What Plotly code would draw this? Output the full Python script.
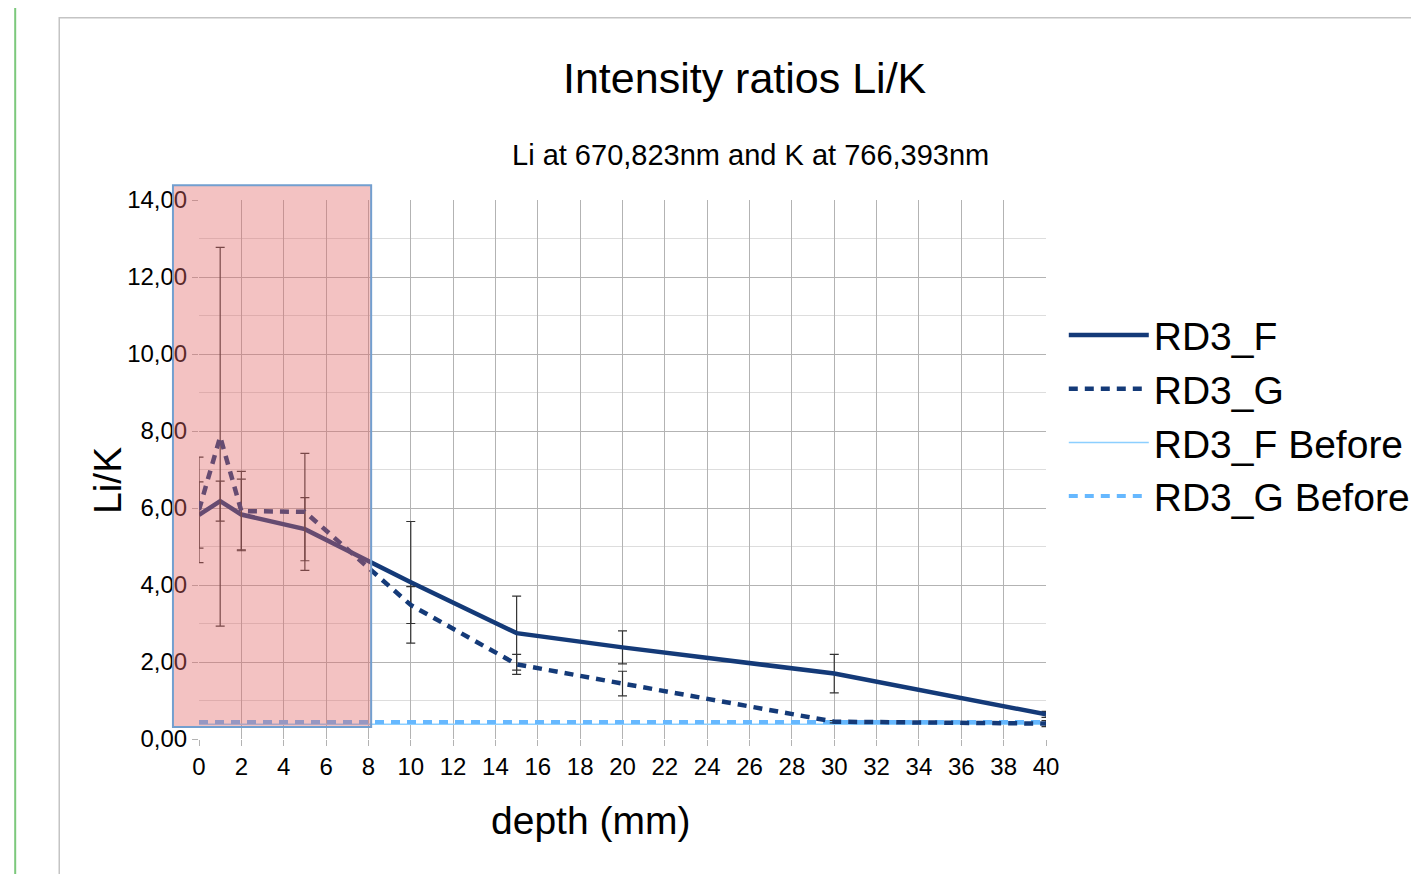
import plotly.graph_objects as go

# ---- data ----
depth = [0, 1, 2, 5, 10, 15, 20, 30, 40]
rd3_f = [5.82, 6.18, 5.83, 5.45, 4.07, 2.75, 2.38, 1.70, 0.64]
rd3_f_err = [0.86, 0.52, 0.92, 0.82, 1.58, 0.96, 0.43, 0.50, 0.08]
rd3_g = [5.95, 7.85, 5.92, 5.90, 3.48, 1.94, 1.44, 0.45, 0.40]
rd3_g_err = [1.37, 4.92, 1.03, 1.52, 0.48, 0.26, 0.32, 0.03, 0.08]
rd3_f_before = [0.38, 0.38, 0.38, 0.38, 0.38, 0.38, 0.38, 0.38, 0.38]
rd3_g_before = [0.44, 0.44, 0.44, 0.44, 0.44, 0.44, 0.44, 0.44, 0.44]

x_range = [0, 40]
y_range = [0, 14]
highlight_x = [-1.23, 8.13]
highlight_y = [0.31, 14.38]

FONT = "Liberation Sans, Arial, sans-serif"
NAVY = "#143a78"
LIGHT = "#66b8ff"
LIGHT_THIN = "#8ccfff"

fig = go.Figure()

fig.add_trace(go.Scatter(
    x=depth, y=rd3_f_before, name="RD3_F Before", mode="lines",
    line=dict(color=LIGHT_THIN, width=1.5), legendrank=3, legendgroup="c"))
fig.add_trace(go.Scatter(
    x=depth, y=rd3_g_before, name="RD3_G Before", mode="lines",
    line=dict(color=LIGHT, width=4, dash="9px,7px"), legendrank=4, legendgroup="d"))
fig.add_trace(go.Scatter(
    x=depth, y=rd3_f, name="RD3_F", mode="lines",
    line=dict(color=NAVY, width=4.5),
    error_y=dict(type="data", array=rd3_f_err, color="#333333", thickness=1.2, width=4.5),
    legendrank=1, legendgroup="a"))
fig.add_trace(go.Scatter(
    x=depth, y=rd3_g, name="RD3_G", mode="lines",
    line=dict(color=NAVY, width=4.5, dash="9px,7px"),
    error_y=dict(type="data", array=rd3_g_err, color="#333333", thickness=1.2, width=4.5),
    legendrank=2, legendgroup="b"))

def px_(v):
    return (v - x_range[0]) / (x_range[1] - x_range[0])

def py_(v):
    return (v - y_range[0]) / (y_range[1] - y_range[0])

shapes = [
    # page border line (green) and chart frame
    dict(type="line", xref="paper", yref="paper", x0=-0.217, x1=-0.217, y0=-0.5, y1=1.5,
         line=dict(color="#7cc87c", width=2), layer="below"),
    dict(type="rect", xref="paper", yref="paper", x0=-0.165, x1=1.6, y0=-0.5, y1=1.338,
         line=dict(color="#c4c4c4", width=1.5), fillcolor="rgba(0,0,0,0)", layer="below"),
    # highlighted region
    dict(type="rect", xref="paper", yref="paper",
         x0=px_(highlight_x[0]), x1=px_(highlight_x[1]),
         y0=py_(highlight_y[0]), y1=py_(highlight_y[1]),
         fillcolor="rgba(224,102,102,0.40)", line=dict(color="#729fcf", width=2), layer="above"),
]

annotations = [
    dict(text="Intensity ratios Li/K", xref="paper", yref="paper", x=0.645, y=1.226,
         showarrow=False, xanchor="center", yanchor="middle", font=dict(size=43, color="black", family=FONT)),
    dict(text="Li at 670,823nm and K at 766,393nm", xref="paper", yref="paper", x=0.651, y=1.0835,
         showarrow=False, xanchor="center", yanchor="middle", font=dict(size=29, color="black", family=FONT)),
    dict(text="Li/K", xref="paper", yref="paper", x=-0.1086, y=0.4786, textangle=-90,
         showarrow=False, xanchor="center", yanchor="middle", font=dict(size=39, color="black", family=FONT)),
    dict(text="depth (mm)", xref="paper", yref="paper", x=0.4626, y=-0.1505,
         showarrow=False, xanchor="center", yanchor="middle", font=dict(size=39, color="black", family=FONT)),
]

fig.update_layout(
    width=1419, height=874,
    margin=dict(l=191, r=379, t=192, b=143),
    paper_bgcolor="white", plot_bgcolor="white",
    separators=",.",
    font=dict(family=FONT, color="black"),
    shapes=shapes, annotations=annotations,
    showlegend=True,
    legend=dict(x=1.021, y=0.8086, xanchor="left", yanchor="top",
                font=dict(size=39, color="black", family=FONT),
                itemwidth=80, tracegroupgap=0, bgcolor="rgba(0,0,0,0)",
                traceorder="normal"),
    xaxis=dict(range=x_range, tickmode="linear", tick0=0, dtick=2,
               showgrid=True, gridcolor="#b3b3b3", gridwidth=1,
               ticks="outside", ticklen=6, tickcolor="#b3b3b3",
               showline=False, zeroline=False,
               tickfont=dict(size=24, color="black", family=FONT)),
    yaxis=dict(range=y_range, tickmode="linear", tick0=0, dtick=2, tickformat=".2f",
               showgrid=True, gridcolor="#b3b3b3", gridwidth=1,
               minor=dict(dtick=1, showgrid=True, gridcolor="#dddddd", ticks=""),
               ticks="outside", ticklen=6, tickcolor="#b3b3b3",
               showline=False, zeroline=False,
               tickfont=dict(size=24, color="black", family=FONT)),
)

fig.write_html("out.html")
